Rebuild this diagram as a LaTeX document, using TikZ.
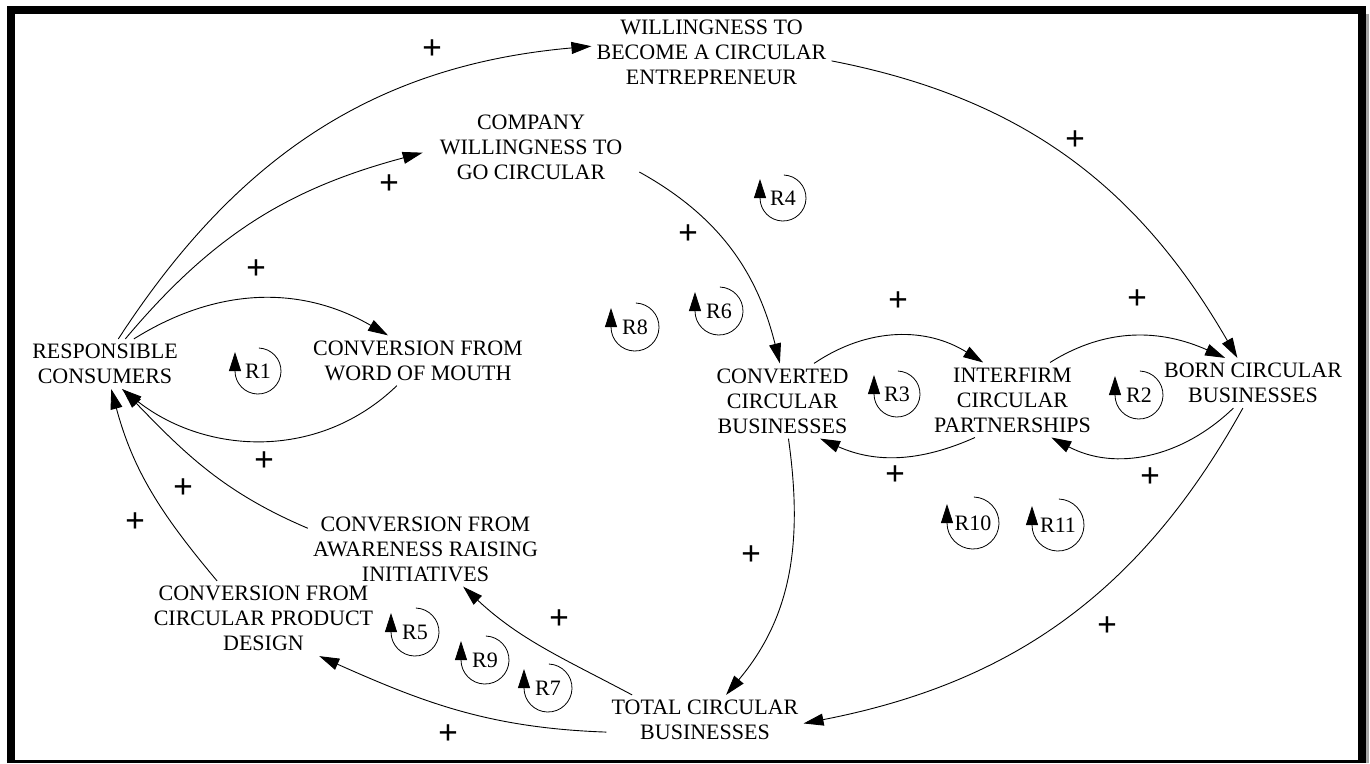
\documentclass[tikz,border=0pt]{standalone}
\usepackage{fontspec}
\setmainfont{Liberation Serif}
\usetikzlibrary{arrows.meta}

\begin{document}
\begin{tikzpicture}[x=1pt,y=1pt,
        var/.style={align=center, inner sep=5pt, font=\fontsize{22}{25}\selectfont},
        link/.style={line width=0.9pt, -{Triangle[length=20pt,width=12pt]}},
        sign/.style={inner sep=0pt, font=\fontsize{35}{35}\selectfont\bfseries},
        looplbl/.style={inner sep=0pt, font=\fontsize{22}{25}\selectfont},
        looparc/.style={line width=0.8pt, -{Triangle[length=19pt,width=12pt]}}]
        \useasboundingbox (0,0) rectangle (1370,-763);
        \draw[line width=8pt] (10.5,-763) -- (10.5,-9.5) -- (1362,-9.5) -- (1362,-763);
        \draw[line width=2.5pt] (6.5,-761.5) -- (1366,-761.5);
        \draw[line width=3pt, black!35] (1367.5,-14) -- (1367.5,-763);

        \node[var] (will) at (711.5,-52.5) {WILLINGNESS TO\\BECOME A CIRCULAR\\ENTREPRENEUR};
        \node[var, inner xsep=17pt] (comp) at (531,-147) {COMPANY\\WILLINGNESS TO\\GO CIRCULAR};
        \node[var] (rc) at (105,-364) {RESPONSIBLE\\CONSUMERS};
        \node[var] (wom) at (418,-360.5) {CONVERSION FROM\\WORD OF MOUTH};
        \node[var] (conv) at (782.5,-401) {CONVERTED\\CIRCULAR\\BUSINESSES};
        \node[var] (inter) at (1012.5,-400) {INTERFIRM\\CIRCULAR\\PARTNERSHIPS};
        \node[var] (born) at (1253,-383) {BORN CIRCULAR\\BUSINESSES};
        \node[var] (aware) at (425.5,-549) {CONVERSION FROM\\AWARENESS RAISING\\INITIATIVES};
        \node[var] (design) at (263.5,-618.5) {CONVERSION FROM\\CIRCULAR PRODUCT\\DESIGN};
        \node[var] (total) at (705,-720) {TOTAL CIRCULAR\\BUSINESSES};

        \draw[link] (rc.62) to[out=57,in=185] (will.177);
        \draw[link] (rc.51) to[out=50,in=195] (comp.183);
        \draw[link] (rc.41) to[out=32,in=150] (wom.140);
        \draw[link] (wom.230) to[out=224,in=-38] (rc.-56);
        \draw[link] (aware.170) to[out=157,in=-46] (rc.-55);
        \draw[link] (design.141) to[out=130,in=-75] (rc.-76);
        \draw[link] (total.161) to[out=152,in=-43] (aware.-45);
        \draw[link] (total.187) to[out=178,in=-24] (design.-34);
        \draw[link] (will.-4) to[out=-11,in=120] (born.122);
        \draw[link] (comp.-13) to[out=-29,in=104] (conv.94);
        \draw[link] (conv.50) to[out=34,in=148] (inter.128);
        \draw[link] (inter.225) to[out=204,in=-24] (conv.-45);
        \draw[link] (inter.45) to[out=32,in=156] (born.138);
        \draw[link] (born.232) to[out=224,in=-28] (inter.-44);
        \draw[link] (conv.-81) to[out=-82,in=50] (total.50);
        \draw[link] (born.248) to[out=241,in=11] (total.-2);

        \foreach \x/\y [count=\i] in {432/50, 1075/141, 389/185, 688/235, 256/270, 898/302,
                1137/300, 264/462, 183/489, 135/523, 895/476, 1150/478, 751/556, 559/620,
                1107/627, 448/735}
            \node[sign] (s\i) at (\x,-\y) {+};

        \foreach \t/\x/\y/\r in {R1/258/371/23, R2/1139/395/24, R3/897/394/23, R4/783/198/23,
                R5/415/632/24, R6/719/311/24, R7/548/688/24, R8/635/327/24, R9/485/660/24,
                R10/973/523/26, R11/1058/525/26} {
            \node[looplbl] (\t) at (\x,-\y) {\t};
            \draw[looparc] (\t.center) ++(88:\r) arc[start angle=88, end angle=-180, radius=\r] -- ++(0,19);
        }
    \end{tikzpicture}
\end{document}
